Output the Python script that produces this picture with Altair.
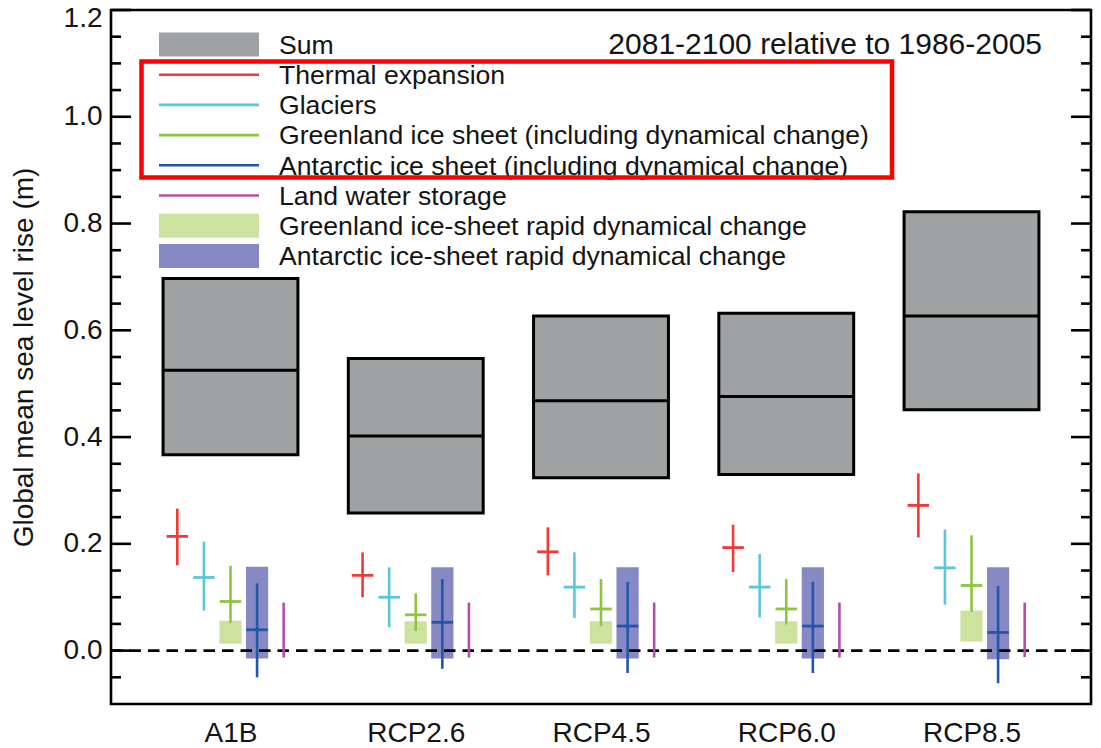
import altair as alt
import pandas as pd
import numpy as np

# ---------------- data ----------------
scenarios = ["A1B", "RCP2.6", "RCP4.5", "RCP6.0", "RCP8.5"]

sum_med = [0.525, 0.402, 0.468, 0.476, 0.627]
sum_lo = [0.367, 0.258, 0.324, 0.330, 0.451]
sum_hi = [0.697, 0.547, 0.627, 0.632, 0.822]

thermal_med = [0.214, 0.141, 0.185, 0.193, 0.272]
thermal_lo = [0.160, 0.100, 0.141, 0.147, 0.212]
thermal_hi = [0.266, 0.184, 0.231, 0.236, 0.332]

glacier_med = [0.137, 0.100, 0.119, 0.119, 0.155]
glacier_lo = [0.075, 0.044, 0.061, 0.062, 0.086]
glacier_hi = [0.204, 0.156, 0.184, 0.181, 0.227]

greenland_med = [0.092, 0.067, 0.078, 0.078, 0.122]
greenland_lo = [0.052, 0.037, 0.046, 0.049, 0.073]
greenland_hi = [0.159, 0.107, 0.134, 0.134, 0.216]

antarctic_med = [0.039, 0.053, 0.046, 0.046, 0.034]
antarctic_lo = [-0.050, -0.034, -0.042, -0.042, -0.061]
antarctic_hi = [0.126, 0.134, 0.129, 0.129, 0.121]

land_lo = [-0.013, -0.013, -0.013, -0.013, -0.012]
land_hi = [0.090, 0.090, 0.090, 0.090, 0.090]

gr_rapid_lo = [0.013, 0.013, 0.013, 0.013, 0.017]
gr_rapid_hi = [0.056, 0.055, 0.055, 0.055, 0.075]

an_rapid_lo = [-0.015, -0.015, -0.015, -0.015, -0.016]
an_rapid_hi = [0.157, 0.156, 0.156, 0.156, 0.156]

legend_labels = [
    "Sum",
    "Thermal expansion",
    "Glaciers",
    "Greenland ice sheet (including dynamical change)",
    "Antarctic ice sheet (including dynamical change)",
    "Land water storage",
    "Greenland ice-sheet rapid dynamical change",
    "Antarctic ice-sheet rapid dynamical change",
]
period_label = "2081-2100 relative to 1986-2005"
y_title = "Global mean sea level rise (m)"

# ---------------- styling ----------------
FONT = "Liberation Sans"
TXT = "#141414"
C_SUM = "#9EA2A2"
C_TH = "#EF3A38"
C_GL = "#5CC6DA"
C_GR = "#8CC540"
C_AN = "#2157A6"
C_LW = "#B44FA7"
C_GRR = "#CCE29E"
C_ANR = "#8789C5"

W, H = 980, 694
XDOM = [0.355, 5.645]
YDOM = [-0.1, 1.2]
xs = alt.Scale(domain=XDOM, nice=False, zero=False)
ys = alt.Scale(domain=YDOM, nice=False, zero=False)


def px_to_x(px):
    return XDOM[0] + px / W * (XDOM[1] - XDOM[0])


def py_to_y(py):
    return YDOM[1] - py / H * (YDOM[1] - YDOM[0])


BOX_HW = 0.364
STEP = 0.1435
BAR_HW = 0.058
RAPID_HW = 0.06

pos = np.arange(1, len(scenarios) + 1)

# ---------------- tables ----------------
sum_df = pd.DataFrame({
    "x1": pos - BOX_HW, "x2": pos + BOX_HW,
    "lo": sum_lo, "hi": sum_hi, "med": sum_med,
})

comp_rows = []
comps = [
    (-2, C_TH, thermal_lo, thermal_hi, thermal_med),
    (-1, C_GL, glacier_lo, glacier_hi, glacier_med),
    (0, C_GR, greenland_lo, greenland_hi, greenland_med),
    (1, C_AN, antarctic_lo, antarctic_hi, antarctic_med),
    (2, C_LW, land_lo, land_hi, None),
]
for k, col, lo, hi, med in comps:
    for i, p in enumerate(pos):
        xc = p + k * STEP
        comp_rows.append({
            "x1": xc, "xl": xc - BAR_HW, "xr": xc + BAR_HW,
            "lo": lo[i], "hi": hi[i],
            "med": (med[i] if med is not None else np.nan),
            "color": col,
        })
comp_df = pd.DataFrame(comp_rows)
bar_df = comp_df.dropna(subset=["med"])

rapid_rows = []
for k, col, lo, hi in [(0, C_GRR, gr_rapid_lo, gr_rapid_hi), (1, C_ANR, an_rapid_lo, an_rapid_hi)]:
    for i, p in enumerate(pos):
        xc = p + k * STEP
        rapid_rows.append({"x1": xc - RAPID_HW, "x2": xc + RAPID_HW,
                           "lo": lo[i], "hi": hi[i], "color": col})
rapid_df = pd.DataFrame(rapid_rows)

major = np.round(np.arange(0, 1.2001, 0.2), 3)
minor = [v for v in np.round(np.arange(-0.05, 1.2, 0.05), 3)
         if abs(v / 0.2 - round(v / 0.2)) > 1e-6]

# ---------------- axes (same object on every layer so they merge) ----------------
label_expr = "[" + ",".join("'%s'" % s for s in scenarios) + "][round(datum.value) - 1]"
xaxis = alt.Axis(values=[int(p) for p in pos], labelExpr=label_expr, title=None,
                 domain=False, ticks=False, grid=False,
                 labelFontSize=28, labelFont=FONT, labelColor=TXT,
                 labelBaseline="alphabetic", labelPadding=37)
yaxis = alt.Axis(values=[float(v) for v in major], format=".1f", title=y_title,
                 domain=False, ticks=False, grid=False,
                 labelFontSize=28, labelFont=FONT, labelColor=TXT, labelPadding=9,
                 labelOffset={"condition": {"test": "datum.value > 1.15", "value": 8},
                              "value": 0},
                 titleFontSize=28, titleFont=FONT, titleColor=TXT, titleFontWeight="normal",
                 titleX=-87, titleY=H / 2, titleAngle=270, titleAlign="center",
                 titleBaseline="middle")

X = lambda f: alt.X(f, scale=xs, axis=xaxis)
Y = lambda f: alt.Y(f, scale=ys, axis=yaxis)

# ---------------- layers ----------------
sum_rect = alt.Chart(sum_df).mark_rect(fill=C_SUM, stroke="black", strokeWidth=3).encode(
    x=X("x1:Q"), x2="x2:Q", y=Y("lo:Q"), y2="hi:Q")
sum_med_rule = alt.Chart(sum_df).mark_rule(color="black", strokeWidth=3).encode(
    x=X("x1:Q"), x2="x2:Q", y=Y("med:Q"))

rapid = alt.Chart(rapid_df).mark_rect().encode(
    x=X("x1:Q"), x2="x2:Q", y=Y("lo:Q"), y2="hi:Q",
    color=alt.Color("color:N", scale=None))

zero_df = pd.DataFrame({"x1": [XDOM[0]], "x2": [XDOM[1]], "lo": [0.0]})
zero_line = alt.Chart(zero_df).mark_rule(color="black", strokeWidth=2.7, strokeDash=[11.5, 7]).encode(
    x=X("x1:Q"), x2="x2:Q", y=Y("lo:Q"))

vlines = alt.Chart(comp_df).mark_rule(strokeWidth=2.6).encode(
    x=X("x1:Q"), y=Y("lo:Q"), y2="hi:Q",
    color=alt.Color("color:N", scale=None))
hbars = alt.Chart(bar_df).mark_rule(strokeWidth=2.8).encode(
    x=X("xl:Q"), x2="xr:Q", y=Y("med:Q"),
    color=alt.Color("color:N", scale=None))

tick_rows = []
for vals, ln in [(major, 20), (minor, 10)]:
    for v in vals:
        tick_rows.append({"x1": px_to_x(0), "x2": px_to_x(ln), "lo": float(v)})
        tick_rows.append({"x1": px_to_x(W - ln), "x2": px_to_x(W), "lo": float(v)})
tick_df = pd.DataFrame(tick_rows)
ticks = alt.Chart(tick_df).mark_rule(color="black", strokeWidth=2.6).encode(
    x=X("x1:Q"), x2="x2:Q", y=Y("lo:Q"))

# ---------------- legend (laid out in plot pixels, mapped through the scales) ----------------
kinds = ["rect", "line", "line", "line", "line", "line", "rect", "rect"]
lcolors = [C_SUM, C_TH, C_GL, C_GR, C_AN, C_LW, C_GRR, C_ANR]
ROW0, ROWSTEP = 34.5, 30.2
ry = np.array([ROW0 + ROWSTEP * i for i in range(len(legend_labels))])
leg_df = pd.DataFrame({
    "label": legend_labels, "kind": kinds, "color": lcolors,
    "x1": px_to_x(48), "x2": px_to_x(148), "xt": px_to_x(168),
    "mid": py_to_y(ry), "lo": py_to_y(ry + 12), "hi": py_to_y(ry - 12),
    "ty": py_to_y(ry + 9.2),
})

leg_rect = alt.Chart(leg_df[leg_df.kind == "rect"]).mark_rect().encode(
    x=X("x1:Q"), x2="x2:Q", y=Y("lo:Q"), y2="hi:Q",
    color=alt.Color("color:N", scale=None))
leg_line = alt.Chart(leg_df[leg_df.kind == "line"]).mark_rule(strokeWidth=2.6).encode(
    x=X("x1:Q"), x2="x2:Q", y=Y("mid:Q"),
    color=alt.Color("color:N", scale=None))
leg_text = alt.Chart(leg_df).mark_text(
    align="left", baseline="alphabetic", font=FONT, fontSize=26.6, color=TXT).encode(
    x=X("xt:Q"), y=Y("ty:Q"), text="label:N")

title_df = pd.DataFrame({"t": [period_label], "x1": [px_to_x(931)], "lo": [py_to_y(44)]})
period_text = alt.Chart(title_df).mark_text(
    align="right", baseline="alphabetic", font=FONT, fontSize=30, color=TXT).encode(
    x=X("x1:Q"), y=Y("lo:Q"), text="t:N")

box_df = pd.DataFrame({"x1": [px_to_x(30.5)], "x2": [px_to_x(781)],
                       "hi": [py_to_y(51.5)], "lo": [py_to_y(167.5)]})
red_box = alt.Chart(box_df).mark_rect(fillOpacity=0, stroke="#FF0000", strokeWidth=4.5).encode(
    x=X("x1:Q"), x2="x2:Q", y=Y("lo:Q"), y2="hi:Q")

chart = alt.layer(
    sum_rect, sum_med_rule, rapid, zero_line, vlines, hbars, ticks,
    leg_rect, leg_line, leg_text, period_text, red_box,
).properties(
    width=W, height=H,
    padding={"left": 103, "top": 2, "right": 2, "bottom": 44},
    autosize=alt.AutoSizeParams(type="none"),
    background="white",
).configure_view(
    stroke="black", strokeWidth=2.6,
)

chart.save("out.html", embed_options={"renderer": "svg", "actions": False})
